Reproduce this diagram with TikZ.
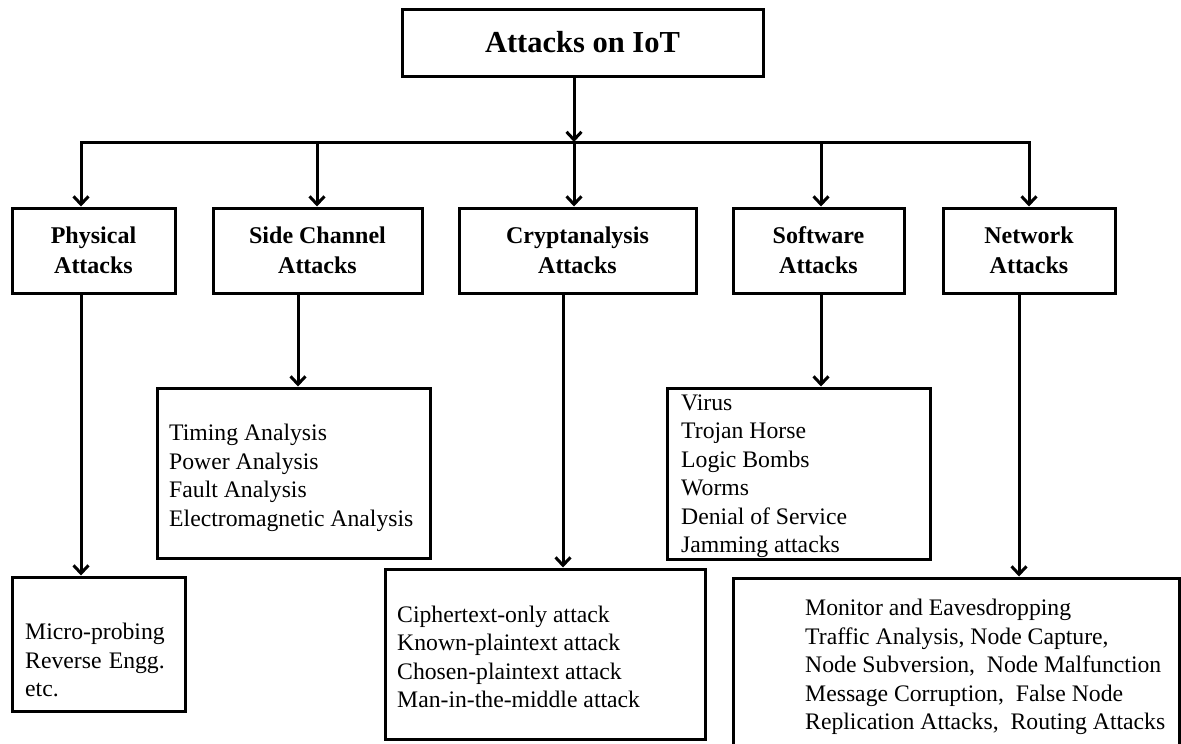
\documentclass[tikz,border=0pt]{standalone}
\usepackage{fontspec}
\usepackage{calc}
\setmainfont{Liberation Serif}
\usetikzlibrary{arrows.meta}
\begin{document}
\begin{tikzpicture}[x=1pt,y=-1pt,
  box/.style={draw, line width=3pt, inner sep=0pt},
  head/.style={box, align=center, font=\bfseries\fontsize{24}{30}\selectfont},
  list/.style={align=left, inner sep=0pt, font=\fontsize{23.7}{28.5}\selectfont, anchor=west},
  arr/.style={line width=3pt, line join=miter, -{Straight Barb[length=8pt,width=15pt,line width=3pt]}},
  ln/.style={line width=3pt}]
\useasboundingbox[fill=white] (0,0) rectangle (1181,744);

% top
\node[box, minimum width=361, minimum height=67, font=\bfseries\fontsize{30.5}{36}\selectfont] (top) at (582.5,42.5) {Attacks on IoT};

% second row
\node[head, minimum width=163, minimum height=85] (phys) at (93.5,250.5) {Physical\\Attacks};
\node[head, minimum width=209, minimum height=85] (side) at (317.5,250.5) {Side Channel\\Attacks};
\node[head, minimum width=237, minimum height=85] (crypt) at (577.5,250.5) {Cryptanalysis\\Attacks};
\node[head, minimum width=171, minimum height=85] (soft) at (818.5,250.5) {Software\\Attacks};
\node[head, minimum width=172, minimum height=85] (net) at (1029,250.5) {Network\\Attacks};

% leaf boxes
\node[box, minimum width=173, minimum height=134] (physLeaf) at (98.5,644) {};
\node[box, minimum width=273, minimum height=170] (sideLeaf) at (293.5,473) {};
\node[box, minimum width=320, minimum height=170] (cryptLeaf) at (545,654) {};
\node[box, minimum width=263, minimum height=171] (softLeaf) at (798.5,473.5) {};
\node[box, minimum width=446, minimum height=174] (netLeaf) at (956,665) {};

% leaf texts
\node[list] (physText) at (25,660) {Micro-probing\\\makebox[\widthof{Micro-probing}][s]{Reverse Engg.}\\etc.};
\node[list] (sideText) at (169,478) {Timing Analysis\\Power Analysis\\Fault Analysis\\Electromagnetic Analysis};
\node[list] (cryptText) at (397,657) {Ciphertext-only attack\\Known-plaintext attack\\Chosen-plaintext attack\\Man-in-the-middle attack};
\node[list] (softText) at (681,476) {Virus\\Trojan Horse\\Logic Bombs\\Worms\\Denial of Service\\Jamming attacks};
\node[list] (netText) at (805,667) {Monitor and Eavesdropping\\Traffic Analysis, Node Capture,\\Node Subversion,\ \ Node Malfunction\\Message Corruption,\ \ False Node\\Replication Attacks,\ \ Routing Attacks};

% junction coordinates
\coordinate (hub) at (574,142);
\coordinate (hL) at (81,142);
\coordinate (j2) at (317,142);
\coordinate (j4) at (821,142);
\coordinate (hR) at (1029,142);
\coordinate (d2) at (298,300);
\coordinate (d3) at (563,300);
\coordinate (d5) at (1019,300);

% connectors
\draw[arr] (top.south -| hub) -- (hub);
\draw[arr] (hub) -- (hL) -- (phys.north -| hL);
\draw[arr] (hub) -- (hR) -- (net.north -| hR);
\draw[arr] (hub) -- (crypt.north -| hub);
\draw[arr] (j2) -- (side.north -| j2);
\draw[arr] (j4) -- (soft.north -| j4);

\draw[arr] (phys.south -| hL) -- (physLeaf.north -| hL);
\draw[arr] (side.south -| d2) -- (sideLeaf.north -| d2);
\draw[arr] (crypt.south -| d3) -- (cryptLeaf.north -| d3);
\draw[arr] (soft.south -| j4) -- (softLeaf.north -| j4);
\draw[arr] (net.south -| d5) -- (netLeaf.north -| d5);
\end{tikzpicture}
\end{document}
